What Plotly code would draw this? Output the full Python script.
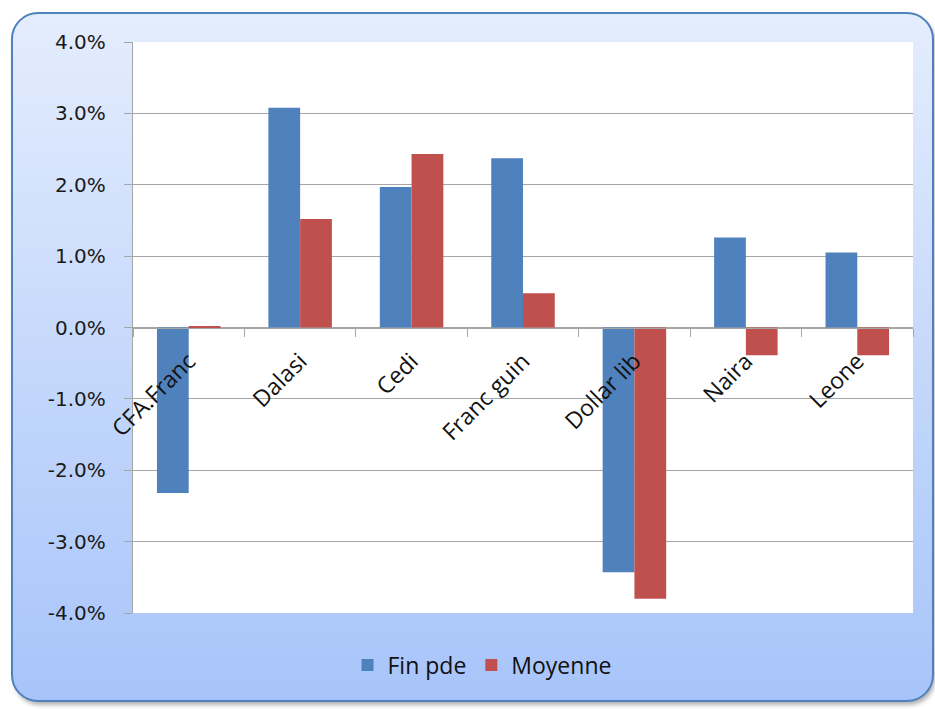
import base64
import plotly.graph_objects as go

# ---- data (percent) ----
categories = ["CFA.Franc", "Dalasi", "Cedi", "Franc guin", "Dollar lib", "Naira", "Leone"]
fin_pde = [-2.32, 3.08, 1.97, 2.37, -3.43, 1.26, 1.05]
moyenne = [0.02, 1.52, 2.43, 0.48, -3.80, -0.39, -0.39]
series_names = ["Fin pde", "Moyenne"]
y_ticks = [-4, -3, -2, -1, 0, 1, 2, 3, 4]
y_ticktext = [f"{v:.1f}%" for v in y_ticks]

W, H = 935, 709
L, R, T, B = 133, 913, 42, 613   # plot area in pixels
pw, ph = R - L, B - T

svg = f'''<svg xmlns="http://www.w3.org/2000/svg" width="{W}" height="{H}" viewBox="0 0 {W} {H}">
<defs>
<linearGradient id="g" x1="0" y1="0" x2="0" y2="1">
<stop offset="0" stop-color="#E4EDFD"/>
<stop offset="1" stop-color="#A7C4FA"/>
</linearGradient>
<filter id="s" x="-5%" y="-5%" width="110%" height="110%"><feGaussianBlur stdDeviation="2"/></filter>
</defs>
<rect x="14" y="16" width="921" height="689" rx="26" ry="26" fill="#000" fill-opacity="0.3" filter="url(#s)"/>
<rect x="12" y="13" width="921" height="688" rx="26" ry="26" fill="url(#g)" stroke="#4F81BD" stroke-width="2"/>
</svg>'''
src = "data:image/svg+xml;base64," + base64.b64encode(svg.encode()).decode()

fig = go.Figure()
fig.add_trace(go.Bar(x=categories, y=fin_pde, name=series_names[0],
                     marker=dict(color="#4F81BD", line=dict(width=0))))
fig.add_trace(go.Bar(x=categories, y=moyenne, name=series_names[1],
                     marker=dict(color="#C0504D", line=dict(width=0))))

fig.update_layout(
    width=W, height=H,
    margin=dict(l=L, r=W - R, t=T, b=H - B, pad=0),
    paper_bgcolor="rgba(0,0,0,0)",
    plot_bgcolor="rgba(0,0,0,0)",
    barmode="group", bargap=0.43, bargroupgap=0,
    showlegend=True,
    legend=dict(orientation="h", x=(482 - L) / pw, y=(B - 665) / ph,
                xanchor="center", yanchor="middle",
                font=dict(family="Open Sans", size=23, color="#111111"),
                bgcolor="rgba(0,0,0,0)"),
    images=[dict(source=src, xref="paper", yref="paper",
                 x=-L / pw, y=B / ph, sizex=W / pw, sizey=H / ph,
                 xanchor="left", yanchor="top", sizing="stretch", layer="below")],
    shapes=[dict(type="rect", xref="paper", yref="paper", x0=0, x1=1, y0=0, y1=1,
                 fillcolor="white", line=dict(width=0), layer="below")],
)

fig.update_yaxes(range=[-4, 4], tickvals=y_ticks, ticktext=y_ticktext,
                 showgrid=True, gridcolor="#A6A6A6", gridwidth=1.3,
                 showline=True, linecolor="#A6A6A6", linewidth=1.3,
                 ticks="outside", ticklen=8, tickcolor="#A6A6A6", tickwidth=1.3,
                 ticklabelstandoff=14,
                 zeroline=False,
                 tickfont=dict(family="DejaVu Sans", size=20, color="#1a1a1a"))
fig.update_xaxes(type="category", range=[-0.5, 6.5], anchor="free", position=0.5,
                 showline=True, linecolor="#A6A6A6", linewidth=1.3,
                 ticks="outside", tickson="boundaries", ticklen=8,
                 tickcolor="#A6A6A6", tickwidth=1.3, tickangle=-45,
                 ticklabelstandoff=10,
                 showgrid=False,
                 tickfont=dict(family="Open Sans", size=23, color="#111111"))

fig.write_html("out.html", config={"displayModeBar": False},
               post_script="document.body.style.margin='0';")
